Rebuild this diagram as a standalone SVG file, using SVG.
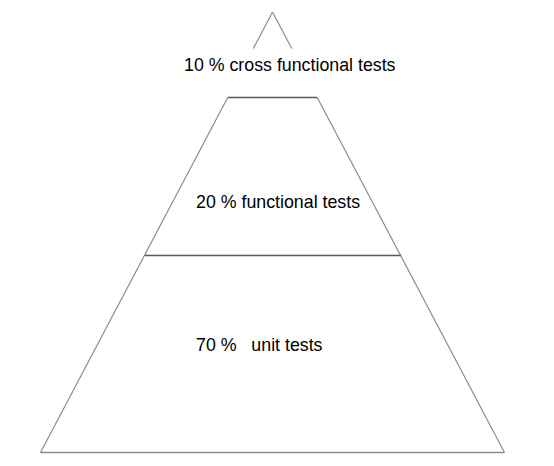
<svg xmlns="http://www.w3.org/2000/svg" width="554" height="466" viewBox="0 0 554 466">
  <style>
    .side { stroke: #8c8c8c; stroke-width: 1.2; fill: none; }
    .cut { stroke: #5a5a5a; stroke-width: 1.6; fill: none; }
    .base { stroke: #8c8c8c; stroke-width: 1.6; fill: none; }
    .lbl { font-family: "Liberation Sans", Arial, sans-serif; font-size: 17.8px; fill: #000; white-space: pre; }
  </style>
  <rect width="554" height="466" fill="#ffffff"/>
  <g id="connectors">
    <line class="side" x1="272.5" y1="12" x2="253.3" y2="48.5"/>
    <line class="side" x1="272.5" y1="12" x2="291.7" y2="48.5"/>
    <line class="side" x1="228" y1="97" x2="40.5" y2="452.5"/>
    <line class="side" x1="317" y1="97" x2="504.5" y2="452.5"/>
  </g>
  <g id="tier-top">
    <text class="lbl" x="184" y="71">10 % cross functional tests</text>
  </g>
  <g id="tier-middle">
    <line class="cut" x1="228" y1="97.5" x2="317" y2="97.5"/>
    <text class="lbl" x="196" y="208">20 % functional tests</text>
  </g>
  <g id="tier-bottom">
    <line class="cut" x1="145" y1="255.5" x2="401" y2="255.5"/>
    <line class="base" x1="40.5" y1="452.5" x2="504.5" y2="452.5"/>
    <text class="lbl" x="196" y="351" xml:space="preserve">70 %   unit tests</text>
  </g>
</svg>
